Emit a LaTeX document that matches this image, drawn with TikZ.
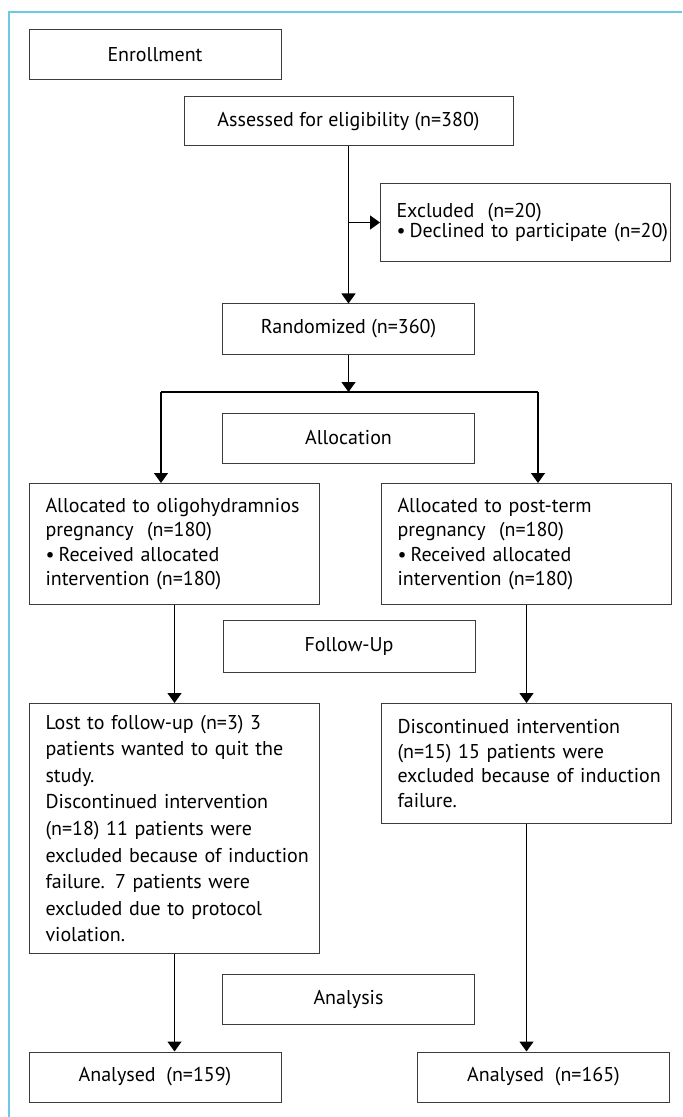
\documentclass[tikz,border=0pt]{standalone}
\usepackage{fontspec}
\setmainfont{PT Sans}
\usetikzlibrary{arrows.meta,positioning}
\definecolor{framecol}{RGB}{110,200,232}
\definecolor{boxline}{RGB}{60,60,60}

\begin{document}
\begin{tikzpicture}[
  x=0.5pt, y=-0.5pt,
  font=\fontsize{10pt}{12.3pt}\selectfont,
  cbox/.style={draw=boxline, line width=0.5pt, minimum width=126pt, minimum height=25pt, align=center, inner sep=2pt},
  lbox/.style={draw=boxline, line width=0.5pt, anchor=north west, text width=145pt, inner xsep=0pt, inner ysep=2pt,
    execute at begin node={\raggedright\leftskip=8pt\rightskip=-12pt plus 1fil\relax}},
  arr/.style={-{Triangle[width=7pt,length=5pt]}, line width=0.7pt},
  link/.style={line width=0.7pt}
]
  \useasboundingbox (0,0) rectangle (682,1117);
  \draw[framecol, line width=1pt] (9,1117) -- (9,12) -- (682,12);

  % enrollment
  \node[cbox] (enrol) at (155,55) {Enrollment};
  \node[cbox, minimum width=164.5pt, minimum height=24.5pt] (assess) at (348.5,121.5) {Assessed for eligibility (n=380)};
  \node[lbox, minimum height=39pt, font=\fontsize{10pt}{9.8pt}\selectfont] (excl) at (380,183)
    {Excluded\ \ (n=20)\\ \textbullet\hspace{2pt}Declined to participate (n=20)};
  \node[cbox] (rand) at (348.5,329) {Randomized (n=360)};

  % allocation
  \node[cbox] (alloc) at (348.5,438) {Allocation};
  \node[lbox, minimum height=60.5pt] (grpA) at (29,483)
    {Allocated to oligohydramnios\\ pregnancy\ \ (n=180)\\ \textbullet\hspace{2pt}Received allocated\\ intervention (n=180)};
  \node[lbox, minimum height=60.5pt] (grpB) at (381,483)
    {Allocated to post-term\\ pregnancy\ \ (n=180)\\ \textbullet\hspace{2pt}Received allocated\\ intervention (n=180)};

  % follow-up
  \node[cbox, minimum height=26pt] (follow) at (349,646) {Follow-Up};
  \node[lbox, minimum height=125pt, font=\fontsize{10pt}{13.3pt}\selectfont] (lostA) at (29,703)
    {Lost to follow-up (n=3) 3\\ patients wanted to quit the\\ study.\\ Discontinued intervention\\ (n=18) 11 patients were\\ excluded because of induction\\ failure. 7 patients were\\ excluded due to protocol\\ violation.};
  \node[lbox, minimum height=60pt] (discB) at (381,703)
    {Discontinued intervention\\ (n=15) 15 patients were\\ excluded because of induction\\ failure.};

  % analysis
  \node[cbox] (analysis) at (348.5,999) {Analysis};
  \node[cbox] (anA) at (155,1077) {Analysed\ \ (n=159)};
  \node[cbox] (anB) at (543.5,1077) {Analysed\ \ (n=165)};

  \coordinate (splitL) at (161,392);
  \coordinate (splitR) at (538,392);

  \draw[arr] (assess) -- (rand);
  \draw[arr] (assess.south |- excl.west) -- (excl.west);
  \draw[arr] (rand) -- (rand.south |- splitL);
  \draw[link] (splitL) -- (splitR);
  \draw[arr] (splitL) -- (splitL |- grpA.north);
  \draw[arr] (splitR) -- (splitR |- grpB.north);
  \draw[arr] (grpA) -- (lostA);
  \draw[arr] (grpB) -- (discB);
  \draw[arr] (lostA.south) -- (lostA.south |- anA.north);
  \draw[arr] (discB.south) -- (discB.south |- anB.north);
\end{tikzpicture}
\end{document}
